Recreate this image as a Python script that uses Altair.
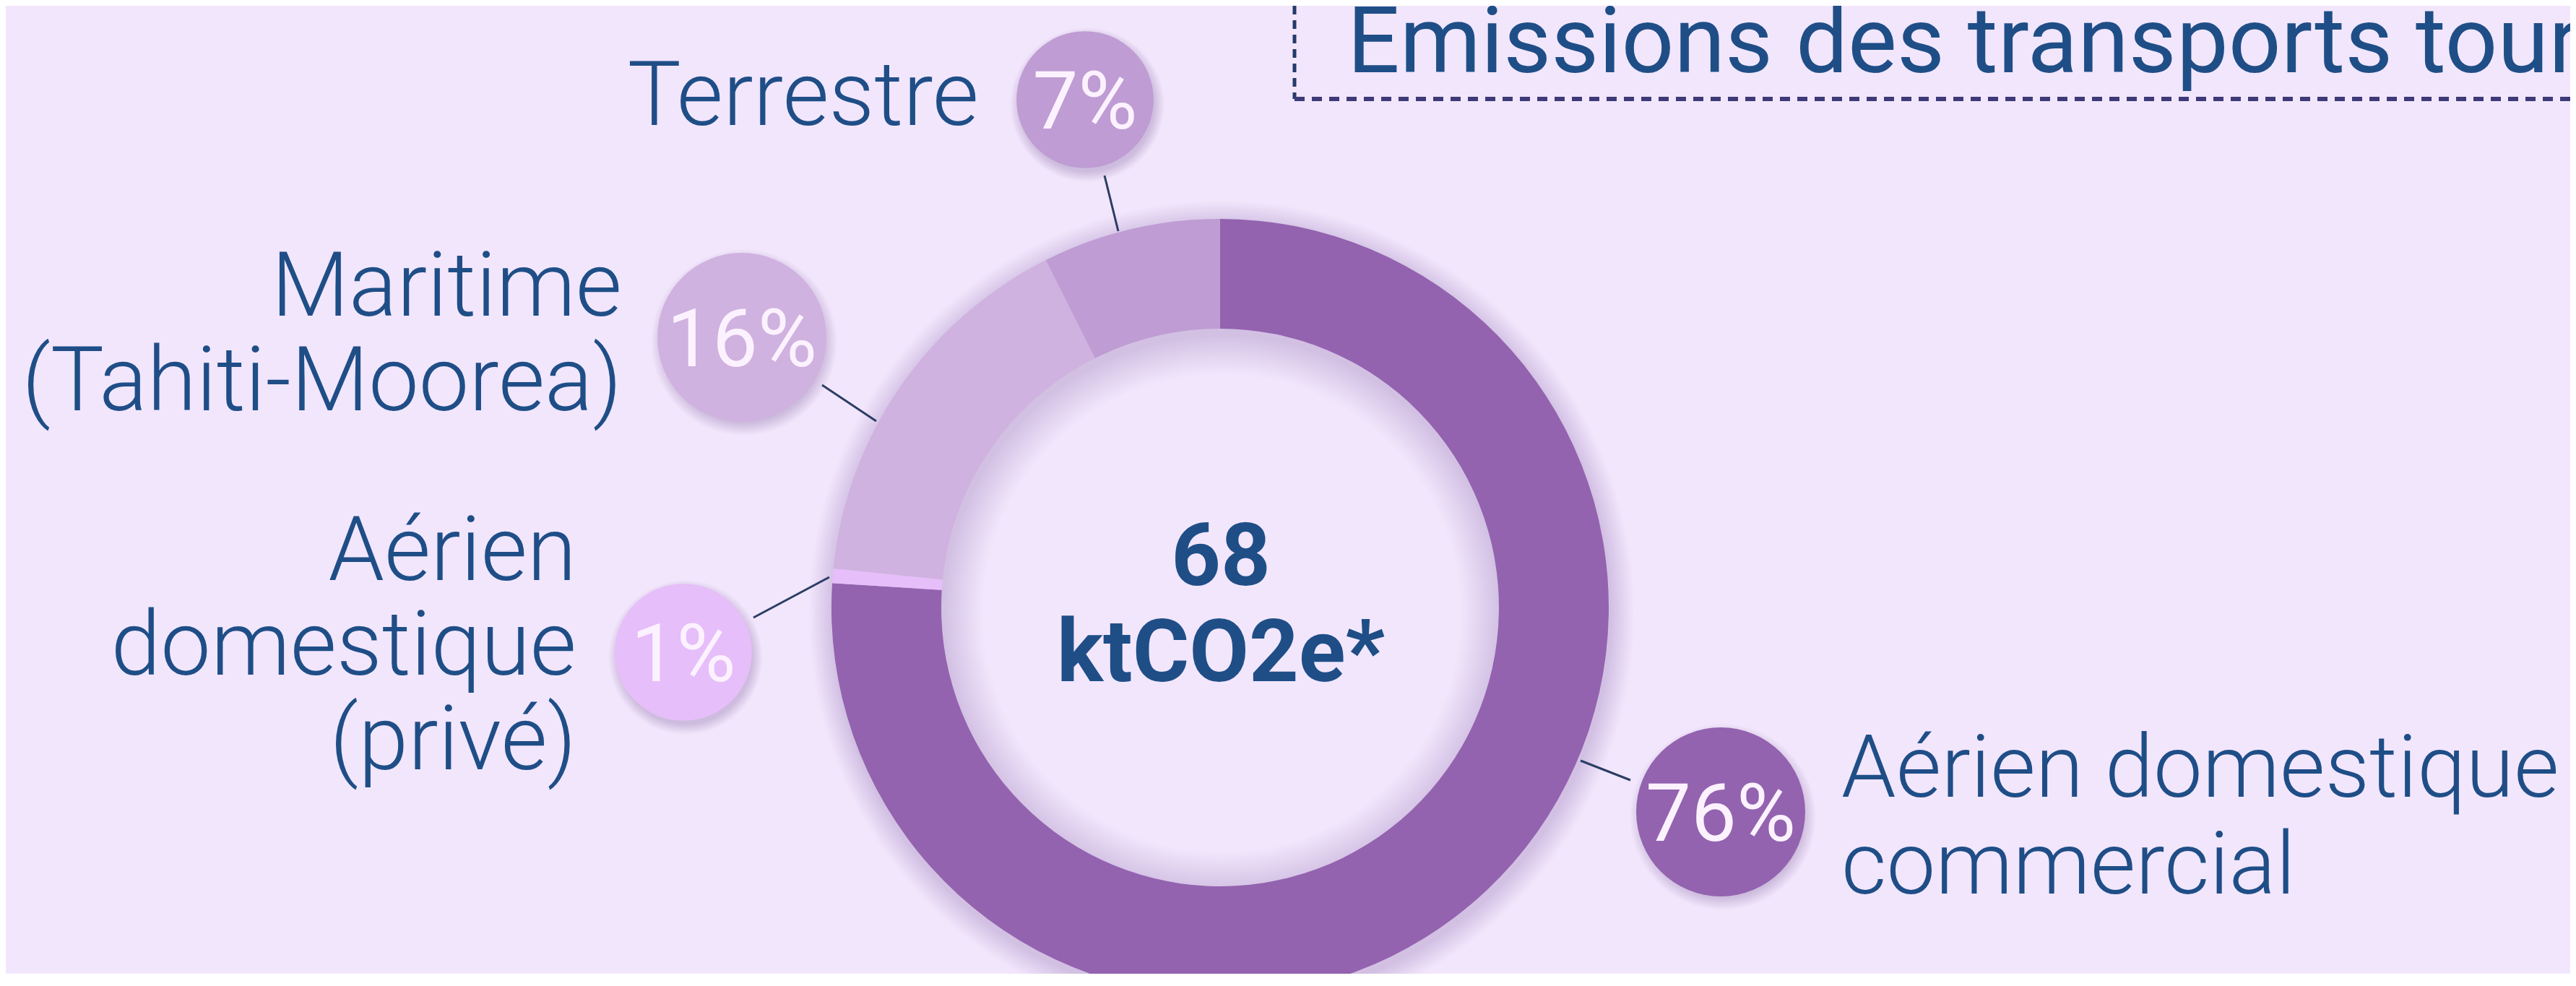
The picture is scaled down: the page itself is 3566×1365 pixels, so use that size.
import math
import altair as alt
import pandas as pd

# ---------------- data ----------------
categories = [
    "Aérien domestique commercial",
    "Aérien domestique (privé)",
    "Maritime (Tahiti-Moorea)",
    "Terrestre",
]
shares = [76.0, 0.6, 16.0, 7.4]          # % of 68 ktCO2e
label_text = [
    "Aérien domestique\ncommercial",
    "Aérien\ndomestique\n(privé)",
    "Maritime\n(Tahiti-Moorea)",
    "Terrestre",
]
colors = ["#9363AF", "#E6BEF9", "#CFB2DF", "#BF9CD3"]
total_value = "68"
total_unit = "ktCO2e*"
title_text = "Emissions des transports touristiques"

# ---------------- layout (reference pixel coordinates) ----------------
M = 8                      # page margin
W, H = 3550, 1340
CX, CY = 1689 - M, 841 - M
R_IN, R_OUT = 386, 538

layout = {
    "bx": [2382, 946, 1027, 1502],
    "by": [1124, 903, 467, 138],
    "br": [132, 107, 132, 107],
    "lx": [2549, 798, 861, 1355],
    "ly": [1103, 803, 437, 173],
    "side": ["left", "right", "right", "right"],
    "x1": [2257, 1043, 1138, 1529],
    "y1": [1080, 855, 533, 243],
    "x2": [2188, 1148, 1213, 1548],
    "y2": [1053, 799, 583, 320],
}

df = pd.DataFrame({
    "cat": categories,
    "share": shares,
    "order": list(range(len(categories))),
    "pct": [f"{round(v)}%" for v in shares],
    "label": label_text,
})
for k, v in layout.items():
    df[k] = v
for k in ["bx", "lx", "x1", "x2"]:
    df[k] = df[k] - M
for k in ["by", "ly", "y1", "y2"]:
    df[k] = df[k] - M
df["bsize"] = [math.pi * r * r for r in df["br"]]
df["ssize"] = [math.pi * (r + 14) ** 2 for r in df["br"]]
df["sx"] = df["bx"] + 3
df["sy"] = df["by"] + 7
df["ty"] = df["by"] + 40

TEXT = "#1F4E87"
color_scale = alt.Scale(domain=categories, range=colors)
one = pd.DataFrame({"k": [0]})


def X(f):
    return alt.X(f"{f}:Q", scale=None, axis=None)


def Y(f):
    return alt.Y(f"{f}:Q", scale=None, axis=None)


shadow_rgb = "150,120,180"
ring_shadow = alt.Chart(one).mark_arc(
    innerRadius=330, outerRadius=572, theta=0, theta2=2 * math.pi,
    fill={
        "gradient": "radial", "x1": 0.5, "y1": 0.5, "r1": 0,
        "x2": 0.5, "y2": 0.5, "r2": 0.5,
        "stops": [
            {"offset": 0.0, "color": f"rgba({shadow_rgb},0)"},
            {"offset": 0.577, "color": f"rgba({shadow_rgb},0)"},
            {"offset": 0.675, "color": f"rgba({shadow_rgb},0.35)"},
            {"offset": 0.941, "color": f"rgba({shadow_rgb},0.35)"},
            {"offset": 1.0, "color": f"rgba({shadow_rgb},0)"},
        ],
    },
).encode(x=alt.value(CX + 2), y=alt.value(CY + 8))

ring = alt.Chart(df).mark_arc(innerRadius=R_IN, outerRadius=R_OUT).encode(
    theta=alt.Theta("share:Q", stack=True),
    color=alt.Color("cat:N", scale=color_scale, legend=None),
    order=alt.Order("order:Q"),
    x=alt.value(CX),
    y=alt.value(CY),
)

leaders = alt.Chart(df).mark_rule(color="#2B3D63", strokeWidth=3).encode(
    x=X("x1"), y=Y("y1"), x2=alt.X2("x2"), y2=alt.Y2("y2")
)

bubble_shadow = alt.Chart(df).mark_circle(
    opacity=1,
    fill={
        "gradient": "radial", "x1": 0.5, "y1": 0.5, "r1": 0,
        "x2": 0.5, "y2": 0.5, "r2": 0.5,
        "stops": [
            {"offset": 0.0, "color": "rgba(120,90,150,0.3)"},
            {"offset": 0.86, "color": "rgba(120,90,150,0.3)"},
            {"offset": 1.0, "color": "rgba(120,90,150,0)"},
        ],
    },
).encode(x=X("sx"), y=Y("sy"), size=alt.Size("ssize:Q", scale=None, legend=None))

bubbles = alt.Chart(df).mark_circle(opacity=1).encode(
    x=X("bx"), y=Y("by"),
    size=alt.Size("bsize:Q", scale=None, legend=None),
    color=alt.Color("cat:N", scale=color_scale, legend=None),
)

bubble_text = alt.Chart(df).mark_text(
    font="Roboto", fontSize=112, fontWeight=400, color="#FCF2FF",
    align="center", baseline="alphabetic",
).encode(x=X("bx"), y=Y("ty"), text="pct:N")

labels_left = alt.Chart(df).transform_filter(alt.datum.side == "left").mark_text(
    font="Roboto", fontSize=121, fontWeight=300, color=TEXT,
    align="left", baseline="alphabetic", lineBreak="\n", lineHeight=134,
).encode(x=X("lx"), y=Y("ly"), text="label:N")

labels_right = alt.Chart(df).transform_filter(alt.datum.side == "right").mark_text(
    font="Roboto", fontSize=124, fontWeight=300, color=TEXT,
    align="right", baseline="alphabetic", lineBreak="\n", lineHeight=131,
).encode(x=X("lx"), y=Y("ly"), text="label:N")

center = alt.Chart(one).mark_text(
    font="Roboto", fontSize=120, fontWeight="bold", color=TEXT,
    align="center", baseline="alphabetic", lineBreak="\n", lineHeight=133,
).encode(x=alt.value(1690 - M), y=alt.value(810 - M),
         text=alt.value(total_value + "\n" + total_unit))

vline = alt.Chart(one).mark_rule(color="#243B6B", strokeWidth=5, strokeDash=[12, 8]).encode(
    x=alt.value(1792 - M), y=alt.value(0), y2=alt.value(137 - M)
)
hline = alt.Chart(one).mark_rule(color="#3E3A78", strokeWidth=6, strokeDash=[14, 10]).encode(
    x=alt.value(1792 - M), x2=alt.value(W), y=alt.value(137 - M)
)
title = alt.Chart(one).mark_text(
    font="Roboto", fontSize=128, fontWeight=400, color=TEXT,
    align="left", baseline="alphabetic",
).encode(x=alt.value(1865 - M), y=alt.value(100 - M), text=alt.value(title_text))

chart = alt.layer(
    ring_shadow, leaders, ring, bubble_shadow, bubbles, bubble_text,
    labels_left, labels_right, center, vline, hline, title,
).properties(
    width=W, height=H,
    autosize=alt.AutoSizeParams(type="none"),
    padding=0,
    background="#F2E6FC",
).configure_view(stroke="transparent")

chart.save("out.html", embed_options={"renderer": "svg", "actions": False})
